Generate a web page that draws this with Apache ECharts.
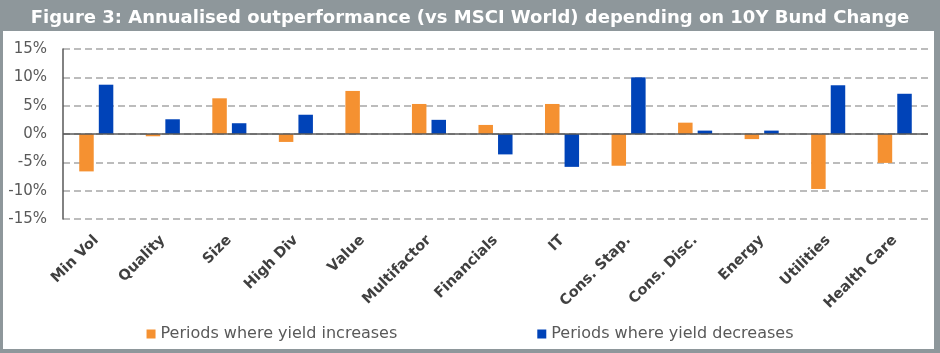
<!DOCTYPE html>
<html>
<head>
<meta charset="utf-8">
<script src="https://cdn.jsdelivr.net/npm/echarts@6/dist/echarts.min.js"></script>
<style>
    html, body {margin: 0; padding: 0; background: #fff;}
    #chart {width: 940px; height: 353px;}
</style>
</head>
<body>
<div id="chart"></div>
<script>
// categories and values (percent)
const categories = ['Min Vol', 'Quality', 'Size', 'High Div', 'Value', 'Multifactor', 'Financials',
    'IT', 'Cons. Stap.', 'Cons. Disc.', 'Energy', 'Utilities', 'Health Care'];
const yieldUp = [-6.6, -0.4, 6.3, -1.4, 7.6, 5.3, 1.6, 5.3, -5.6, 2.0, -0.9, -9.7, -5.1];
const yieldDown = [8.7, 2.6, 1.9, 3.4, 0, 2.5, -3.6, -5.8, 10.0, 0.6, 0.6, 8.6, 7.1];
const seriesNames = ['Periods where yield increases', 'Periods where yield decreases'];
const titleText = 'Figure 3: Annualised outperformance (vs MSCI World) depending on 10Y Bund Change';

const chart = echarts.init(document.getElementById('chart'));
const font = 'DejaVu Sans';

const option = {
    animation: false,
    graphic: [
        {type: 'rect', z: -10, silent: true, shape: {x: 0, y: 0, width: 940, height: 353}, style: {fill: '#8e979b'}},
        {type: 'rect', z: -9, silent: true, shape: {x: 3, y: 31, width: 931, height: 318}, style: {fill: '#ffffff'}}
    ],
    title: {
        text: titleText,
        left: 'center',
        top: 4,
        textStyle: {color: '#fff', fontFamily: font, fontWeight: 'bold', fontSize: 18}
    },
    legend: {
        bottom: 6,
        left: 'center',
        itemGap: 140,
        itemWidth: 9,
        itemHeight: 9,
        icon: 'rect',
        textStyle: {color: '#595959', fontFamily: font, fontSize: 16}
    },
    grid: {left: 63, right: 12, top: 49, bottom: 134},
    xAxis: {
        type: 'category',
        data: categories,
        axisLine: {show: false, onZero: false},
        axisTick: {show: false},
        axisLabel: {
            interval: 0,
            rotate: 45,
            margin: 19,
            color: '#404040',
            fontFamily: font,
            fontWeight: 'bold',
            fontSize: 14.5
        }
    },
    yAxis: {
        type: 'value',
        min: -15,
        max: 15,
        interval: 5,
        axisLine: {show: true, lineStyle: {color: '#595959', width: 1.5}},
        axisTick: {show: false},
        axisLabel: {
            margin: 16,
            color: '#595959',
            fontFamily: font,
            fontSize: 15,
            formatter: v => v + '%'
        },
        splitLine: {lineStyle: {color: '#a6a6a6', width: 1.5, type: [7, 4]}}
    },
    series: [
        {
            name: seriesNames[0],
            type: 'bar',
            data: yieldUp,
            barWidth: 14.5,
            barGap: '35%',
            itemStyle: {color: '#f59131'},
            markLine: {
                silent: true,
                symbol: 'none',
                label: {show: false},
                lineStyle: {color: '#595959', type: 'solid', width: 1.5},
                data: [{yAxis: 0}]
            }
        },
        {
            name: seriesNames[1],
            type: 'bar',
            data: yieldDown,
            barWidth: 14.5,
            itemStyle: {color: '#0043b8'}
        }
    ]
};

chart.setOption(option);
</script>
</body>
</html>
